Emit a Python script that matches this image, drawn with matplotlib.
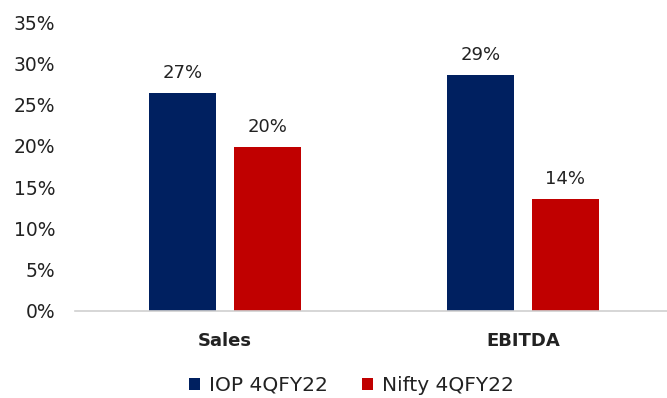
import matplotlib
matplotlib.use("Agg")
import matplotlib.pyplot as plt
import numpy as np

categories = ["Sales", "EBITDA"]
series_names = ["IOP 4QFY22", "Nifty 4QFY22"]
iop = [26.4, 28.6]
nifty = [19.9, 13.6]
iop_labels = ["27%", "29%"]
nifty_labels = ["20%", "14%"]
yticks = [0, 5, 10, 15, 20, 25, 30, 35]

plt.rcParams["font.family"] = ["DejaVu Sans"]
text_color = "#222222"

fig = plt.figure(figsize=(6.67, 3.98), dpi=100)
ax = fig.add_axes([0.1124, 0.2186, 0.8876, 0.7261])

x = np.arange(len(categories))
w = 0.225
off = 0.1426
b1 = ax.bar(x - off, iop, w, color="#002060", label=series_names[0])
b2 = ax.bar(x + off, nifty, w, color="#C00000", label=series_names[1])

for bars, labs in ((b1, iop_labels), (b2, nifty_labels)):
    for rect, lab in zip(bars, labs):
        ax.annotate(lab, (rect.get_x() + rect.get_width() / 2, rect.get_height()),
                    xytext=(0, 8), textcoords="offset points", ha="center", va="bottom",
                    fontsize=13, color=text_color)

ax.set_xlim(-0.503, 1.484)
ax.set_ylim(0, 35)
ax.set_yticks(yticks)
ax.set_yticklabels([f"{t}%" for t in yticks], fontsize=13.5, color=text_color)
ax.set_xticks(x)
ax.set_xticklabels(categories, fontsize=13, color=text_color, fontweight="bold")
ax.tick_params(axis="y", length=0, pad=14)
ax.tick_params(axis="x", length=0, pad=15)
for s in ("top", "right", "left"):
    ax.spines[s].set_visible(False)
ax.spines["bottom"].set_color("#d0d0d0")
ax.spines["bottom"].set_linewidth(1.2)

leg = fig.legend(handles=[b1, b2], loc="center", bbox_to_anchor=(0.527, 0.032), ncol=2,
                 frameon=False, fontsize=14.5, handlelength=0.55, handleheight=0.55,
                 handletextpad=0.45, columnspacing=1.7)
for t in leg.get_texts():
    t.set_color(text_color)

fig.savefig("out.png", dpi=100)
